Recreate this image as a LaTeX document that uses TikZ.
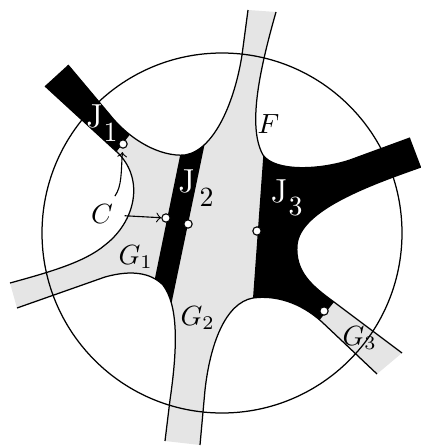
\documentclass[tikz,border=0pt]{standalone}
\definecolor{band}{gray}{0.9}
\tikzset{
  dot/.style={circle,draw=black,fill=white,inner sep=0pt,minimum size=3pt,line width=0.4pt},
  jlet/.style={text=white,font=\large,inner sep=0pt},
  jnum/.style={font=\normalsize,inner sep=0pt},
  lab/.style={inner sep=0pt,anchor=base west},
  rim/.style={line width=0.45pt},
  arr/.style={->,line width=0.4pt}
}
% boundary pieces of the surface (pixel coordinates, y downwards)
\def\segA{(68,65) -- (110,115) .. controls (130,140) and (160,157) .. (185,155) .. controls (215,150) and (235,100) .. (242,55) -- (248,10)}
\def\segB{(276,12) .. controls (258,75) and (248,128) .. (263,155) .. controls (275,172) and (320,170) .. (350,160) -- (410,138)}
\def\segC{(421,167) .. controls (370,185) and (300,210) .. (297,245) .. controls (295,272) and (312,286) .. (334,302) -- (402,353)}
\def\segD{(377,374) -- (322,322) .. controls (300,302) and (275,295) .. (253,298) .. controls (225,303) and (210,345) .. (205,390) -- (200,445)}
\def\segE{(165,441) -- (170,400) .. controls (178,345) and (178,305) .. (163,285) .. controls (150,272) and (130,270) .. (105,277) -- (17,308)}
\def\segF{(10,283) .. controls (50,272) and (85,262) .. (105,245) .. controls (135,222) and (145,180) .. (118,153) -- (45,86)}
\def\surf{\segA -- \segB -- \segC -- \segD -- \segE -- \segF -- cycle}
\begin{document}
\begin{tikzpicture}[x=0.36pt,y=-0.36pt]
\useasboundingbox (0,0) rectangle (421,446);
% grey surface
\fill[band] \surf;
% black parts J1, J2, J3
\begin{scope}
  \clip (95,179) -- (150,109) -- (100,-10) -- (-10,-10) -- (-10,179) -- cycle;
  \fill[black] \surf;
\end{scope}
\begin{scope}
  \clip (192.5,95) -- (220.5,68) -- (158,368) -- (142.5,339) -- cycle;
  \fill[black] \surf;
\end{scope}
\begin{scope}
  \clip (266,100) -- (266,118) -- (251,326) -- (302,342) -- (366,262) -- (440,262) -- (440,100) -- cycle;
  \fill[black] \surf;
\end{scope}
% outlines (band ends left open)
\draw[rim] \segA;
\draw[rim] \segB;
\draw[rim] \segC;
\draw[rim] \segD;
\draw[rim] \segE;
\draw[rim] \segF;
% the big circle
\draw[rim] (222,233) circle[radius=180];
% small marked points
\node[dot] (c1) at (123,144) {};
\node[dot] (c2) at (166,218) {};
\node[dot] (c3) at (188,224) {};
\node[dot] (c4) at (257,231) {};
\node[dot] (c5) at (324,311) {};
% labels
\node[jlet] (J1l) at (94.5,116.5) {J};
\node[jnum,text=white] (J1n) at (110.5,132) {1};
\node[jlet] (J2l) at (186.5,181) {J};
\node[jnum] (J2n) at (206.5,197.5) {2};
\node[jlet] (J3l) at (279,191.5) {J};
\node[jnum,text=white] (J3n) at (295.5,207) {3};
\node[lab] (F) at (257,133) {$F$};
\node[lab] (G1) at (118,264) {$G_1$};
\node[lab] (G2) at (180,325) {$G_2$};
\node[lab] (G3) at (342,345) {$G_3$};
\node[inner sep=3pt] (C) at (102,214.5) {$C$};
% arrows from C
\draw[arr,shorten <=1pt] (C) -- (c2);
\draw[arr,shorten >=1.2pt] (C) .. controls (122,186) and (121,172) .. (c1);
\end{tikzpicture}
\end{document}
